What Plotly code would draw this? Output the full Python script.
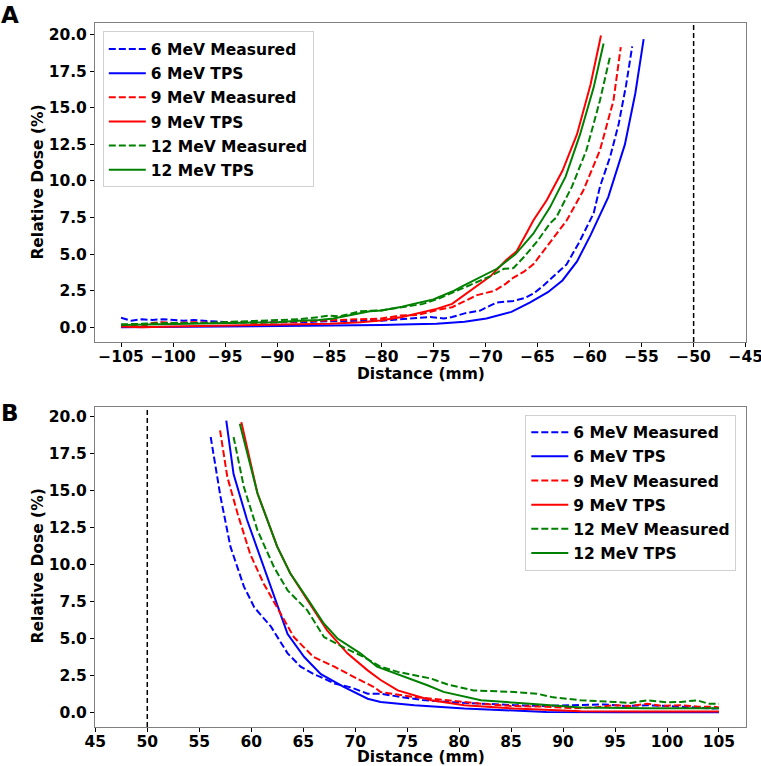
import plotly.graph_objects as go

# ---------------- data: panel A (negative side) ----------------
a_6_meas_x = [-105, -104, -103, -102, -101, -100, -99, -98, -97, -96, -95, -94, -93, -92, -91, -90, -89, -88, -87, -86, -85, -84, -83, -82, -81, -80, -79, -78, -77, -76, -75.3, -74, -73.2, -72, -70.5, -69.5, -68.9, -67.3, -66.2, -65.4, -64.5, -63.9, -62.2, -61, -59.6, -59, -58, -57.2, -56.5, -55.9]
a_6_meas_y = [0.65, 0.45, 0.55, 0.5, 0.55, 0.5, 0.45, 0.5, 0.45, 0.35, 0.3, 0.3, 0.35, 0.35, 0.3, 0.35, 0.35, 0.3, 0.35, 0.4, 0.4, 0.45, 0.4, 0.45, 0.5, 0.45, 0.5, 0.55, 0.6, 0.65, 0.7, 0.6, 0.7, 0.95, 1.14, 1.5, 1.7, 1.8, 2.0, 2.3, 2.8, 3.2, 4.3, 5.8, 7.8, 9.6, 11.7, 13.9, 16.5, 19.2]
a_6_tps_x = [-105, -100, -95, -90, -85, -80, -77, -74.7, -72, -69.9, -67.5, -65.7, -64, -62.6, -61.2, -59.9, -58.2, -56.6, -55.6, -54.8]
a_6_tps_y = [0.0, 0.02, 0.05, 0.08, 0.1, 0.15, 0.2, 0.25, 0.38, 0.6, 1.05, 1.7, 2.4, 3.2, 4.5, 6.3, 8.9, 12.5, 16.0, 19.7]
a_9_meas_x = [-105, -104, -103, -102, -101, -100, -98, -96, -94, -92, -90, -88, -86, -84, -82, -80, -78.2, -76.5, -75.6, -74.5, -73.2, -72, -70.8, -69.1, -68, -67.3, -66.3, -65.4, -64.1, -62.2, -60.6, -59, -57.7, -57.0]
a_9_meas_y = [0.15, 0.1, 0.05, 0.3, 0.35, 0.3, 0.35, 0.3, 0.35, 0.3, 0.35, 0.35, 0.4, 0.45, 0.5, 0.6, 0.8, 0.85, 1.0, 1.2, 1.37, 1.8, 2.2, 2.5, 3.0, 3.4, 3.8, 4.3, 5.5, 7.3, 9.35, 12.1, 15.5, 19.15]
a_9_tps_x = [-105, -103, -100, -95, -90, -85, -82, -80.1, -78, -76.9, -74.7, -73.2, -71.5, -69.5, -68, -67, -66, -65.4, -64.1, -62.6, -61.2, -59.9, -58.9]
a_9_tps_y = [0.05, 0.0, 0.05, 0.1, 0.15, 0.25, 0.35, 0.46, 0.7, 0.9, 1.26, 1.6, 2.5, 3.5, 4.6, 5.2, 6.5, 7.3, 8.7, 10.7, 13.2, 16.6, 19.95]
a_12_meas_x = [-105, -103, -100, -97, -95, -93, -90, -88, -86, -85, -84, -83, -82, -80, -78, -76, -74.5, -73, -72, -70.5, -69.5, -68.2, -67.3, -66.3, -65, -63.8, -63.2, -61.7, -60.3, -59, -58]
a_12_meas_y = [0.2, 0.25, 0.3, 0.3, 0.35, 0.45, 0.5, 0.55, 0.7, 0.8, 0.75, 0.95, 1.1, 1.15, 1.35, 1.6, 1.95, 2.4, 2.75, 3.2, 3.5, 4.0, 4.05, 4.8, 5.9, 7.1, 7.5, 9.6, 12.1, 15.5, 18.6]
a_12_tps_x = [-105, -100, -95, -90, -88, -86, -84.6, -83, -81.1, -80, -78, -76.9, -75, -74.5, -73, -72.1, -70.5, -68.9, -67.1, -65.4, -63.8, -62.3, -60.9, -59.6, -58.65]
a_12_tps_y = [0.15, 0.2, 0.25, 0.35, 0.45, 0.5, 0.6, 0.85, 1.1, 1.15, 1.4, 1.6, 1.9, 2.05, 2.5, 2.85, 3.4, 4.0, 5.0, 6.4, 8.2, 10.3, 13.2, 16.4, 19.4]

# ---------------- data: panel B (positive side) ----------------
b_6_meas_x = [56.1, 57.05, 58.0, 59.3, 60.3, 61.9, 63.5, 64.75, 66.0, 66.7, 68.0, 69.6, 71.2, 72.45, 74.4, 76.5, 78.9, 82, 85.3, 88, 91.7, 94, 96, 98.1, 100, 102, 104.5, 105]
b_6_meas_y = [18.6, 14.55, 11.2, 8.5, 7.1, 5.8, 4.0, 3.1, 2.6, 2.4, 1.96, 1.7, 1.28, 1.28, 1.05, 0.85, 0.72, 0.6, 0.5, 0.45, 0.5, 0.55, 0.45, 0.5, 0.45, 0.35, 0.27, 0.3]
b_6_tps_x = [57.6, 58.3, 59.6, 61.2, 62.2, 63.5, 65.1, 66.7, 68.9, 71.2, 72.45, 75.7, 80.5, 85, 88.4, 95, 100, 105]
b_6_tps_y = [19.7, 16.1, 13.0, 9.8, 7.8, 5.3, 3.75, 2.6, 1.73, 0.94, 0.72, 0.49, 0.27, 0.12, 0.05, 0.03, 0.02, 0.02]
b_9_meas_x = [57.0, 57.7, 58.7, 59.9, 61.2, 62.5, 64.1, 66.0, 68.0, 69.9, 71.8, 72.45, 75.7, 78.9, 82.1, 85, 88.4, 91, 93, 94.9, 96.5, 98.1, 99.5, 101.3, 103, 104.5, 105]
b_9_meas_y = [19.05, 15.9, 13.4, 10.7, 8.7, 7.1, 5.1, 3.75, 3.1, 2.4, 1.73, 1.39, 1.05, 0.83, 0.6, 0.45, 0.4, 0.3, 0.35, 0.5, 0.45, 0.6, 0.45, 0.5, 0.4, 0.4, 0.35]
b_9_tps_x = [59.05, 60.6, 62.5, 63.75, 65.4, 67.3, 69.25, 71.2, 72.45, 74.1, 77.3, 80.5, 85.3, 91.7, 98, 105]
b_9_tps_y = [19.6, 14.8, 11.2, 9.4, 7.6, 5.55, 4.0, 2.85, 2.2, 1.5, 0.83, 0.5, 0.27, 0.1, 0.08, 0.08]
b_12_meas_x = [58.3, 59.3, 60.6, 62.2, 63.5, 65.4, 67.0, 68.9, 70.85, 72.45, 74.1, 77.3, 78.9, 81.4, 85.3, 87.5, 88.9, 91.7, 94.9, 96.5, 98.1, 100, 101.3, 102.9, 104, 105]
b_12_meas_y = [18.6, 15.2, 12.3, 9.8, 8.25, 6.9, 5.1, 4.4, 3.75, 3.1, 2.75, 2.3, 1.9, 1.5, 1.39, 1.28, 1.05, 0.83, 0.72, 0.65, 0.83, 0.7, 0.72, 0.83, 0.6, 0.6]
b_12_tps_x = [58.9, 60.6, 62.5, 63.75, 65.4, 67.0, 68.3, 70.5, 72.1, 74.1, 76.95, 78.5, 82.1, 86.8, 91.7, 98.1, 105]
b_12_tps_y = [19.5, 14.8, 11.2, 9.4, 7.7, 6.0, 5.0, 4.0, 3.1, 2.6, 1.85, 1.4, 0.83, 0.6, 0.35, 0.3, 0.3]

boundary_a = -50
boundary_b = 50

series_names = ["6 MeV Measured", "6 MeV TPS", "9 MeV Measured", "9 MeV TPS", "12 MeV Measured", "12 MeV TPS"]
series_colors = ["#0000ff", "#0000ff", "#ff0000", "#ff0000", "#008000", "#008000"]
series_dash = ["7px,3px", "solid", "7px,3px", "solid", "7px,3px", "solid"]

y_ticks = [0, 2.5, 5, 7.5, 10, 12.5, 15, 17.5, 20]
xa_ticks = [-105, -100, -95, -90, -85, -80, -75, -70, -65, -60, -55, -50, -45]
xa_text = ["\u2212105", "\u2212100", "\u221295", "\u221290", "\u221285", "\u221280", "\u221275", "\u221270", "\u221265", "\u221260", "\u221255", "\u221250", "\u221245"]
xb_ticks = [45, 50, 55, 60, 65, 70, 75, 80, 85, 90, 95, 100, 105]

x_title = "Distance (mm)"
y_title = "Relative Dose (%)"

panel_a = [(a_6_meas_x, a_6_meas_y), (a_6_tps_x, a_6_tps_y), (a_9_meas_x, a_9_meas_y),
           (a_9_tps_x, a_9_tps_y), (a_12_meas_x, a_12_meas_y), (a_12_tps_x, a_12_tps_y)]
panel_b = [(b_6_meas_x, b_6_meas_y), (b_6_tps_x, b_6_tps_y), (b_9_meas_x, b_9_meas_y),
           (b_9_tps_x, b_9_tps_y), (b_12_meas_x, b_12_meas_y), (b_12_tps_x, b_12_tps_y)]

FONT = "DejaVu Sans"
FS = 15.5
fig = go.Figure()

for i, (xs, ys) in enumerate(panel_a):
    fig.add_trace(go.Scatter(x=xs, y=ys, mode="lines", name=series_names[i],
                             line=dict(color=series_colors[i], dash=series_dash[i], width=2),
                             xaxis="x", yaxis="y", legend="legend", legendgroup="a%d" % i))
for i, (xs, ys) in enumerate(panel_b):
    fig.add_trace(go.Scatter(x=xs, y=ys, mode="lines", name=series_names[i],
                             line=dict(color=series_colors[i], dash=series_dash[i], width=2),
                             xaxis="x2", yaxis="y2", legend="legend2", legendgroup="b%d" % i))

tickfont = dict(family=FONT, size=FS, color="black", weight="bold")
titlefont = dict(family=FONT, size=FS, color="black", weight="bold")
legfont = dict(family=FONT, size=FS, color="black", weight="bold")
axis_common = dict(showline=True, linecolor="#808080", linewidth=1, mirror=True,
                   ticks="outside", ticklen=4, tickcolor="black", showgrid=False,
                   zeroline=False, tickfont=tickfont, ticklabeloverflow="allow",
                   automargin=False)

fig.update_layout(
    width=761, height=766,
    margin=dict(l=95, r=15, t=23, b=39),
    plot_bgcolor="white", paper_bgcolor="white",
    font=dict(family=FONT, color="black"),
    xaxis=dict(domain=[0, 1], anchor="y", range=[-107.5, -44.97], tickvals=xa_ticks, ticktext=xa_text,
               ticklabelstandoff=-4, **axis_common),
    yaxis=dict(domain=[0.547, 1], anchor="x", range=[-1.0, 20.8], tickvals=y_ticks, tickformat=".1f",
               **axis_common),
    xaxis2=dict(domain=[0, 1], anchor="y2", range=[44.97, 107.6], tickvals=xb_ticks,
                ticklabelstandoff=-4, **axis_common),
    yaxis2=dict(domain=[0, 0.4545], anchor="x2", range=[-0.97, 20.62], tickvals=y_ticks, tickformat=".1f",
                **axis_common),
    legend=dict(x=0.012, y=0.988, xanchor="left", yanchor="top", bgcolor="white",
                bordercolor="#d0d0d0", borderwidth=1, itemwidth=37, tracegroupgap=1,
                font=legfont),
    legend2=dict(x=0.661, y=0.4437, xanchor="left", yanchor="top", bgcolor="white",
                 bordercolor="#d0d0d0", borderwidth=1, itemwidth=37, tracegroupgap=1,
                 font=legfont),
    showlegend=True,
)

fig.add_shape(type="line", xref="x", yref="y domain", x0=boundary_a, x1=boundary_a, y0=0, y1=1,
              line=dict(color="black", width=1.5, dash="5px,3px"))
fig.add_shape(type="line", xref="x2", yref="y2 domain", x0=boundary_b, x1=boundary_b, y0=0, y1=1,
              line=dict(color="black", width=1.5, dash="5px,3px"))

# axis titles as annotations
for yv in (0.5014, -0.0433):
    fig.add_annotation(text=x_title, xref="paper", yref="paper", x=0.5, y=yv,
                       xanchor="center", yanchor="middle", showarrow=False, font=titlefont)
for yv in (0.774, 0.2287):
    fig.add_annotation(text=y_title, xref="paper", yref="paper", x=-0.0868, y=yv, textangle=-90,
                       xanchor="center", yanchor="middle", showarrow=False, font=titlefont)

fig.add_annotation(text="A", xref="paper", yref="paper", x=-0.147, y=1.0327, xanchor="left", yanchor="top",
                   showarrow=False, font=dict(family=FONT, size=23, color="black", weight="bold"))
fig.add_annotation(text="B", xref="paper", yref="paper", x=-0.147, y=0.467, xanchor="left", yanchor="top",
                   showarrow=False, font=dict(family=FONT, size=23, color="black", weight="bold"))

fig.write_html("out.html")
